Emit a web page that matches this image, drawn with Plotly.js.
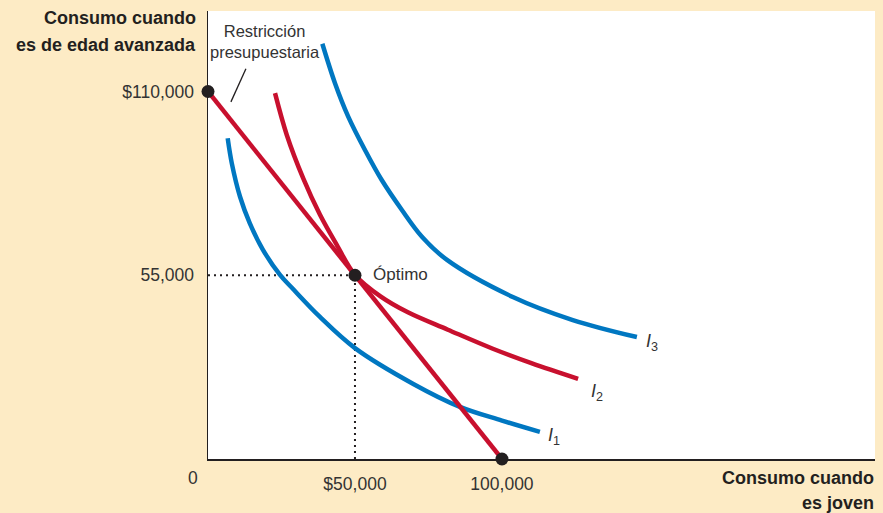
<!DOCTYPE html>
<html>
<head>
<meta charset="utf-8">
<script src="https://cdn.plot.ly/plotly-3.0.1.min.js"></script>
<style>
html,body{margin:0;padding:0;background:#FDEBC5;}
#chart{width:883px;height:513px;}
</style>
</head>
<body>
<div id="chart"></div>
<script>
// Values in thousands of dollars
const budgetX = [0, 100];
const budgetY = [110, 0];

const i1X = [6.7, 8.1, 10.9, 14.2, 18.7, 24.5, 28.7, 38.0, 50.0, 70.0, 85.7, 100.0, 112.9];
const i1Y = [96.0, 88.5, 78.5, 70.6, 62.6, 55.1, 51.1, 42.6, 33.2, 22.4, 15.6, 11.5, 8.1];

const i2X = [22.8, 26.8, 32.4, 38.1, 43.8, 50.0, 58.8, 68.0, 81.6, 96.9, 110.0, 125.9];
const i2Y = [109.5, 97.0, 84.0, 73.1, 64.1, 55.1, 48.6, 43.9, 38.7, 33.0, 28.7, 24.0];

const i3X = [38.9, 43.2, 47.7, 53.4, 59.1, 65.9, 72.7, 81.3, 103.7, 124.1, 145.9];
const i3Y = [124.3, 112.5, 102.5, 92.5, 83.5, 74.6, 66.6, 59.6, 48.5, 41.6, 36.5];

const optimumX = 50, optimumY = 55;
const dotsX = [0, optimumX, 100];
const dotsY = [110, optimumY, 0];

const guideHX = [0, optimumX], guideHY = [optimumY, optimumY];
const guideVX = [optimumX, optimumX], guideVY = [0, optimumY];

const leaderX = [7.8, 12.9];
const leaderY = [106.9, 116.8];

const xTickVals = [50, 100];
const xTickText = ['$50,000', '100,000'];
const yTickVals = [55, 110];
const yTickText = ['55,000', '$110,000'];

const curveLabels = [
  {x: 115.0, y: 6.6, text: '<i>I</i><sub>1</sub>'},
  {x: 129.6, y: 19.8, text: '<i>I</i><sub>2</sub>'},
  {x: 148.3, y: 35.0, text: '<i>I</i><sub>3</sub>'}
];

const BLUE = '#0077C1', RED = '#C8102E', DARK = '#231F20', TXT = '#333333';
const FONT = 'Liberation Sans, Arial, sans-serif';

const traces = [
  {x: guideHX, y: guideHY, mode: 'lines', line: {color: DARK, width: 2, dash: '2px,4px'}, hoverinfo: 'skip'},
  {x: guideVX, y: guideVY, mode: 'lines', line: {color: DARK, width: 2, dash: '2px,4px'}, hoverinfo: 'skip'},
  {x: i1X, y: i1Y, mode: 'lines', line: {color: BLUE, width: 4.5, shape: 'spline', smoothing: 1}},
  {x: budgetX, y: budgetY, mode: 'lines', line: {color: RED, width: 4.5}},
  {x: i2X, y: i2Y, mode: 'lines', line: {color: RED, width: 4.5, shape: 'spline', smoothing: 1}},
  {x: i3X, y: i3Y, mode: 'lines', line: {color: BLUE, width: 4.5, shape: 'spline', smoothing: 1}},
  {x: leaderX, y: leaderY, mode: 'lines', line: {color: DARK, width: 1.3}},
  {x: dotsX, y: dotsY, mode: 'markers', marker: {color: DARK, size: 13}, cliponaxis: false}
];

const ann = [
  {x: 19.4, y: 125.0, xref: 'x', yref: 'y', text: 'Restricción<br>presupuestaria', showarrow: false,
   xanchor: 'center', yanchor: 'middle', font: {family: FONT, size: 16.5, color: TXT}},
  {x: 55.3, y: 55.1, xref: 'x', yref: 'y', text: 'Óptimo', showarrow: false,
   xanchor: 'left', yanchor: 'middle', font: {family: FONT, size: 17, color: TXT}},
  {x: -0.015, y: 0.984, xref: 'paper', yref: 'paper', text: '<b>Consumo cuando</b>', showarrow: false,
   xanchor: 'right', yanchor: 'middle', font: {family: FONT, size: 18, color: DARK}},
  {x: -0.015, y: 0.924, xref: 'paper', yref: 'paper', text: '<b>es de edad avanzada</b>', showarrow: false,
   xanchor: 'right', yanchor: 'middle', font: {family: FONT, size: 18, color: DARK}},
  {x: 1.0015, y: -0.0424, xref: 'paper', yref: 'paper', text: '<b>Consumo cuando</b>', showarrow: false,
   xanchor: 'right', yanchor: 'middle', font: {family: FONT, size: 18, color: DARK}},
  {x: 1.0015, y: -0.0982, xref: 'paper', yref: 'paper', text: '<b>es joven</b>', showarrow: false,
   xanchor: 'right', yanchor: 'middle', font: {family: FONT, size: 18, color: DARK}},
  {x: -0.0225, y: -0.0424, xref: 'paper', yref: 'paper', text: '0', showarrow: false,
   xanchor: 'center', yanchor: 'middle', font: {family: FONT, size: 17.5, color: TXT}}
];
curveLabels.forEach(c => ann.push({x: c.x, y: c.y, xref: 'x', yref: 'y', text: c.text, showarrow: false,
  xanchor: 'left', yanchor: 'middle', font: {family: FONT, size: 18, color: TXT}}));

const layout = {
  width: 883, height: 513,
  margin: {l: 208, r: 8, t: 11, b: 54},
  paper_bgcolor: '#FDEBC5',
  plot_bgcolor: '#FFFFFF',
  showlegend: false,
  xaxis: {range: [0, 226.9], showgrid: false, zeroline: false, showline: true, linecolor: DARK, linewidth: 1.5,
    tickvals: xTickVals, ticktext: xTickText, ticks: '', ticklabelstandoff: 8,
    tickfont: {family: FONT, size: 17.5, color: TXT}, fixedrange: true},
  yaxis: {range: [0, 134.1], showgrid: false, zeroline: false, showline: true, linecolor: DARK, linewidth: 1.5,
    tickvals: yTickVals, ticktext: yTickText, ticks: '', ticklabelstandoff: 9,
    tickfont: {family: FONT, size: 17.5, color: TXT}, fixedrange: true},
  annotations: ann
};

Plotly.newPlot('chart', traces, layout, {staticPlot: true, displayModeBar: false});
</script>
</body>
</html>
